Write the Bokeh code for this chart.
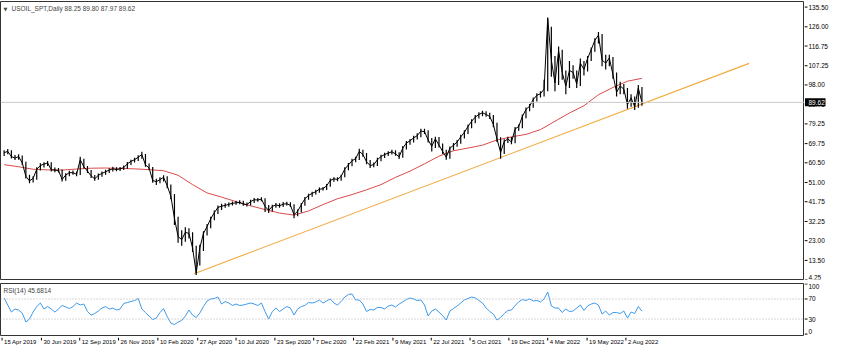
import pandas as pd
from bokeh.plotting import figure
from bokeh.layouts import column, row
from bokeh.models import Range1d, Span, Label
from bokeh.core.properties import value
from bokeh.embed import file_html
from bokeh.resources import INLINE

# ---------------- data ----------------
symbol_title = "USOIL_SPT,Daily  88.25 89.80 87.97 89.62"
rsi_title = "RSI(14) 45.6814"
first_week = "2019-04-19"

# weekly closes
close = [
    65.4, 66.0, 63.5, 62.8, 63.5, 60.5, 54.0, 51.8, 53.0, 57.4,
    59.2, 59.9, 60.4, 57.2, 57.0, 56.8, 52.5, 54.6, 55.8, 55.7,
    55.0, 62.0, 58.6, 56.5, 54.2, 52.8, 54.5, 55.4, 56.2, 57.0,
    57.6, 57.2, 57.6, 58.2, 60.0, 61.2, 62.0, 63.2, 64.5, 59.5,
    58.0, 52.0, 51.4, 52.4, 53.5, 49.5, 44.5, 33.8, 25.0, 23.5,
    27.0, 26.5, 19.5, 7.5, 19.5, 26.5, 29.8, 33.5, 36.5, 39.0,
    39.6, 40.0, 40.5, 41.0, 41.2, 41.5, 40.6, 40.4, 41.8, 42.7,
    42.6, 43.0, 39.5, 37.6, 39.5, 40.2, 39.8, 40.6, 40.8, 40.0,
    35.5, 37.2, 40.3, 43.2, 44.8, 45.8, 46.6, 47.8, 48.0, 49.5,
    52.0, 52.8, 52.5, 54.0, 57.5, 59.5, 61.5, 62.5, 66.0, 64.5,
    61.0, 59.2, 59.6, 62.0, 63.5, 64.5, 65.2, 65.8, 64.8, 63.4,
    67.6, 70.0, 71.1, 72.5, 73.6, 75.8, 75.5, 71.5, 68.5, 72.0,
    69.0, 66.0, 63.2, 67.5, 69.0, 70.5, 73.0, 75.2, 78.0, 80.5,
    82.5, 83.8, 84.6, 83.8, 82.8, 79.0, 72.0, 65.5, 70.8, 72.0,
    70.5, 76.8, 78.0, 82.8, 86.2, 87.8, 91.0, 93.0, 93.8, 96.0,
    130.0, 110.0, 99.0, 114.5, 104.0, 97.5, 105.0, 104.0, 98.5, 108.5,
    105.5, 110.8, 115.0, 119.5, 122.0, 110.0, 108.5, 111.0, 103.0, 94.5,
    97.5, 96.0, 88.5, 91.8, 87.5, 96.5, 89.62,
]

# weekly highs
high = [
    66.6, 67.2, 66.5, 64.3, 64.6, 64.0, 61.0, 54.8, 54.0, 58.4,
    60.3, 60.8, 61.4, 60.8, 58.2, 58.0, 57.3, 55.5, 56.7, 56.8,
    56.3, 63.4, 62.4, 59.0, 57.0, 54.6, 55.4, 56.3, 57.2, 57.9,
    58.6, 58.4, 58.5, 59.2, 60.9, 62.0, 63.0, 64.2, 65.8, 64.8,
    60.2, 58.5, 52.8, 53.5, 54.5, 54.0, 50.0, 45.5, 34.5, 28.0,
    29.5, 29.0, 27.0, 20.5, 21.0, 27.5, 31.0, 34.5, 37.5, 40.0,
    40.8, 41.0, 41.4, 41.9, 42.2, 42.5, 42.2, 41.4, 42.7, 43.6,
    43.5, 43.9, 43.4, 40.2, 40.3, 41.2, 41.0, 41.6, 41.8, 41.5,
    40.5, 38.0, 41.2, 44.0, 45.6, 46.6, 47.5, 48.6, 48.9, 50.3,
    52.9, 53.6, 53.5, 54.8, 58.4, 60.4, 62.4, 63.4, 67.3, 66.8,
    65.2, 61.8, 60.6, 63.0, 64.4, 65.4, 66.1, 66.8, 66.5, 65.6,
    68.6, 71.0, 72.0, 73.5, 74.7, 76.9, 76.9, 76.2, 72.4, 73.0,
    72.9, 69.8, 66.8, 68.4, 70.0, 71.5, 74.0, 76.2, 79.0, 81.5,
    83.5, 84.8, 85.6, 85.3, 84.6, 83.5, 79.8, 72.8, 71.8, 73.0,
    72.9, 77.8, 79.0, 83.8, 87.2, 88.8, 92.0, 94.0, 95.0, 100.5,
    130.5, 126.0, 112.0, 116.5, 115.0, 105.0, 109.5, 107.5, 105.0, 110.8,
    109.5, 112.0, 116.0, 120.5, 123.5, 122.5, 112.5, 112.5, 111.5, 104.0,
    99.5, 98.5, 96.5, 93.5, 92.5, 98.0, 97.0,
]

# weekly lows
low = [
    63.8, 64.6, 62.6, 61.9, 62.0, 59.4, 53.0, 50.6, 51.0, 52.4,
    56.8, 58.3, 59.0, 56.3, 55.9, 55.8, 51.5, 51.9, 54.0, 54.8,
    54.0, 54.6, 57.8, 55.6, 53.2, 51.9, 52.3, 53.8, 54.8, 55.6,
    56.3, 56.4, 56.5, 57.1, 57.7, 59.5, 60.6, 61.4, 62.4, 58.6,
    57.0, 50.9, 49.8, 50.6, 51.5, 48.2, 43.0, 30.5, 22.0, 20.5,
    22.5, 24.0, 17.5, 6.5, 11.0, 18.0, 25.5, 29.0, 32.8, 35.8,
    37.8, 38.9, 39.4, 39.9, 40.3, 40.5, 39.8, 39.5, 39.9, 41.2,
    41.8, 42.0, 36.8, 36.3, 37.0, 38.8, 38.9, 39.2, 39.9, 39.2,
    33.8, 34.8, 36.6, 39.8, 42.7, 44.2, 45.3, 46.1, 47.2, 47.4,
    49.0, 51.4, 51.6, 51.9, 53.5, 56.9, 58.8, 60.8, 61.8, 63.4,
    59.8, 58.0, 58.4, 59.0, 61.3, 62.8, 63.8, 64.5, 63.9, 62.3,
    62.9, 66.9, 69.2, 70.3, 71.7, 72.8, 74.4, 70.3, 65.9, 67.6,
    67.9, 64.8, 62.0, 62.5, 66.6, 68.2, 69.7, 72.2, 74.4, 77.2,
    79.6, 81.8, 82.9, 82.7, 81.6, 77.6, 70.5, 62.5, 64.8, 70.0,
    69.4, 69.9, 76.0, 77.2, 82.0, 85.3, 87.0, 90.0, 92.0, 92.5,
    95.0, 102.0, 95.0, 98.0, 100.5, 93.5, 96.5, 101.0, 96.5, 97.5,
    102.5, 104.5, 109.5, 114.0, 118.0, 107.0, 105.5, 107.0, 101.0, 92.5,
    93.5, 93.5, 86.5, 87.5, 86.0, 87.0, 87.97,
]

# RSI(14), weekly readings
rsi = [
    72, 58, 44, 50, 48, 42, 24, 30, 44, 55,
    62, 50, 55, 50, 44, 50, 57, 54, 51, 55,
    62, 58, 60, 45, 38, 41, 46, 52, 55, 50,
    52, 48, 50, 61, 63, 65, 67, 71, 50, 43,
    36, 29, 32, 43, 51, 35, 22, 19, 24, 27,
    36, 48, 38, 33, 42, 55, 66, 70, 71, 74,
    60, 65, 62, 57, 60, 57, 58, 60, 62, 60,
    57, 62, 45, 30, 45, 52, 45, 50, 55, 52,
    38, 50, 55, 57, 63, 62, 64, 68, 62, 66,
    70, 62, 58, 65, 74, 79, 80, 68, 68, 60,
    45, 49, 48, 53, 53, 50, 56, 58, 54, 60,
    64, 69, 72, 70, 67, 68, 58, 36, 46, 50,
    44, 37, 28, 46, 51, 56, 62, 68, 71, 74,
    72, 67, 62, 52, 45, 40, 28, 33, 41, 47,
    48, 57, 64, 69, 67, 70, 66, 67, 64, 70,
    84, 56, 52, 52, 43, 50, 45, 46, 52, 58,
    47, 56, 60, 62, 58, 40, 46, 38, 43, 43,
    41, 46, 32, 44, 41, 55, 45.68,
]

# 200-day moving average, read every 4th week
ma200 = [
    59.6, 58.6, 57.4, 57.1, 57.0, 57.5, 57.9, 58.0, 57.8, 57.6,
    57.2, 56.7, 54.5, 50.0, 46.0, 44.0, 41.8, 39.8, 38.0, 36.3,
    35.3, 37.3, 40.4, 43.2, 45.2, 47.5, 50.0, 53.5, 56.5, 60.0,
    63.7, 66.3, 67.6, 69.0, 71.5, 73.0, 74.2, 76.5, 80.5, 84.5,
    88.0, 93.3, 96.8, 99.8, 101.2,
]

trend_dates = ["2020-04-20", "2023-03-28"]
trend_values = [7.1, 108.4]
last_price = 89.62

price_ticks = [4.25, 13.50, 23.00, 32.25, 41.75, 51.00, 60.50, 69.75, 79.25,
               88.75, 98.00, 107.25, 116.75, 126.00, 135.50]
rsi_ticks = [0, 30, 70, 100]
rsi_levels = [30, 70]
date_labels = ["15 Apr 2019", "30 Jun 2019", "12 Sep 2019", "26 Nov 2019",
               "10 Feb 2020", "27 Apr 2020", "10 Jul 2020", "23 Sep 2020",
               "7 Dec 2020", "22 Feb 2021", "9 May 2021", "22 Jul 2021",
               "5 Oct 2021", "19 Dec 2021", "4 Mar 2022", "19 May 2022",
               "2 Aug 2022"]

# ---------------- derived ----------------
weeks = pd.date_range(first_week, periods=len(close), freq="7D")
ma_x = weeks[::4]
trend_x = pd.to_datetime(trend_dates)
label_dates = pd.to_datetime(date_labels, format="%d %b %Y")

FONT = "Liberation Sans"
FS = "6.5px"
FS_DATE = "6px"
FW = 804          # plot frame width
AW = 30           # price-scale column width
MAIN_H = 278
RSI_H = 52

x_range = Range1d(start=pd.Timestamp("2019-04-12"), end=pd.Timestamp("2023-07-13"))
price_range = Range1d(4.3, 138.2)
rsi_range = Range1d(-2.8, 100.9)


def base_fig(w, h, xr, yr, top, bottom, outline):
    f = figure(width=w, height=h + top + bottom, frame_width=w, frame_height=h,
               x_range=xr, y_range=yr, x_axis_location=None, y_axis_location=None,
               output_backend="svg", toolbar_location=None,
               min_border_left=0, min_border_right=0,
               min_border_top=top, min_border_bottom=bottom)
    f.grid.visible = False
    f.outline_line_color = outline
    f.background_fill_color = "white"
    f.border_fill_color = "white"
    return f


def price_scale(yr, h, top, bottom, ticks, labels, edge_low=None, edge_high=None):
    a = base_fig(AW, h, Range1d(0, AW), yr, top, bottom, None)
    a.segment(x0=0, x1=3, y0=ticks, y1=ticks, line_color="black", line_width=1)
    mid = [(t, l) for t, l in zip(ticks, labels) if t not in (edge_low, edge_high)]
    a.text(x=4, y=[t for t, _ in mid], text=[l for _, l in mid], text_align="left",
           text_baseline="middle", text_font=value(FONT), text_font_size=value(FS),
           text_color="black")
    if edge_low is not None:
        a.text(x=4, y=[edge_low], text=[labels[ticks.index(edge_low)]], text_align="left",
               text_baseline="bottom", text_font=value(FONT), text_font_size=value(FS),
               text_color="black")
    if edge_high is not None:
        a.text(x=4, y=[edge_high], text=[labels[ticks.index(edge_high)]], text_align="left",
               text_baseline="top", text_font=value(FONT), text_font_size=value(FS),
               text_color="black")
    return a


# ---------------- main price panel ----------------
p = base_fig(FW, MAIN_H, x_range, price_range, 1, 3, "#333333")
p.add_layout(Span(location=last_price, dimension="width", line_color="#c8c8c8", line_width=1))
p.line(trend_x, trend_values, line_color="#f2a93b", line_width=1.1)
p.line(ma_x, ma200, line_color="#d94a4a", line_width=1)
p.segment(x0=weeks, x1=weeks, y0=low, y1=high, line_color="black", line_width=1.2)
p.line(weeks, close, line_color="black", line_width=1.0)
p.add_layout(Label(x=3, y=MAIN_H - 4, x_units="screen", y_units="screen", text="▼",
                   text_font="DejaVu Sans", text_font_size="5px", text_baseline="top"))
p.add_layout(Label(x=11, y=MAIN_H - 3, x_units="screen", y_units="screen", text=symbol_title,
                   text_font=FONT, text_font_size=FS, text_baseline="top"))

pa = price_scale(price_range, MAIN_H, 1, 3, price_ticks,
                 [f"{t:.2f}" for t in price_ticks], edge_low=price_ticks[0])
pa.rect(x=[10.75], y=[last_price], width=20.5, height=8, height_units="screen",
        fill_color="black", line_color=None)
pa.text(x=[4], y=[last_price], text=[f"{last_price:.2f}"], text_align="left",
        text_baseline="middle", text_font=value(FONT), text_font_size=value(FS),
        text_color="white")

# ---------------- RSI panel ----------------
r = base_fig(FW, RSI_H, x_range, rsi_range, 1, 1, "#333333")
for lvl in rsi_levels:
    r.add_layout(Span(location=lvl, dimension="width", line_color="#b0b0b0",
                      line_width=1, line_dash="1 2"))
r.line(weeks, rsi, line_color="#3d9aea", line_width=1)
r.add_layout(Label(x=3, y=RSI_H - 3, x_units="screen", y_units="screen", text=rsi_title,
                   text_font=FONT, text_font_size=FS, text_baseline="top"))

ra = price_scale(rsi_range, RSI_H, 1, 1, rsi_ticks, [str(t) for t in rsi_ticks],
                 edge_low=rsi_ticks[0], edge_high=rsi_ticks[-1])

# ---------------- date labels strip ----------------
s = base_fig(FW, 11, x_range, Range1d(0, 11), 0, 0, None)
s.segment(x0=label_dates, x1=label_dates, y0=11, y1=8, line_color="black", line_width=1)
s.text(x=label_dates, y=10, text=date_labels, text_align="left", text_baseline="top",
       text_font=value(FONT), text_font_size=value(FS_DATE), text_color="black", x_offset=2)

layout = column(row(p, pa, spacing=0), row(r, ra, spacing=0), s, spacing=0)
open("out.html", "w").write(file_html(layout, INLINE))
